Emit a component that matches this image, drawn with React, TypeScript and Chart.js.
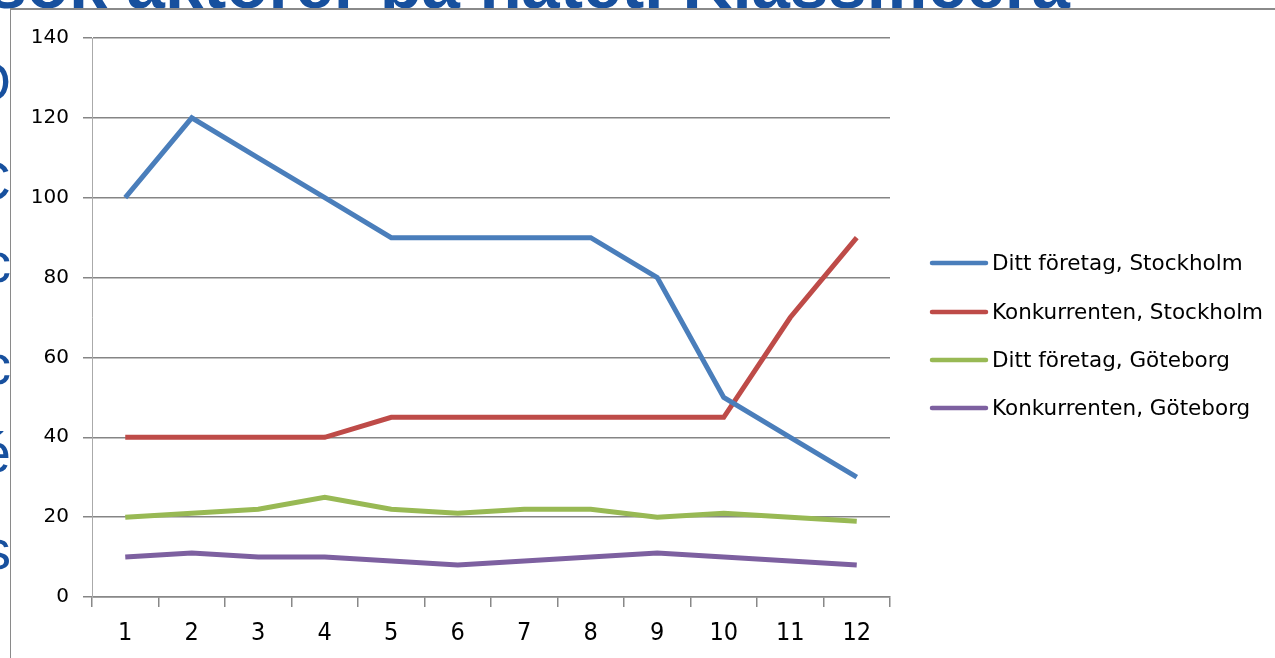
import React, { useEffect, useRef } from "react";
import { Chart, registerables } from "chart.js";

Chart.register(...registerables);

const categories = ["1", "2", "3", "4", "5", "6", "7", "8", "9", "10", "11", "12"];
const dittStockholm = [100, 120, 110, 100, 90, 90, 90, 90, 80, 50, 40, 30];
const konkStockholm = [40, 40, 40, 40, 45, 45, 45, 45, 45, 45, 70, 90];
const dittGoteborg = [20, 21, 22, 25, 22, 21, 22, 22, 20, 21, 20, 19];
const konkGoteborg = [10, 11, 10, 10, 9, 8, 9, 10, 11, 10, 9, 8];
const seriesNames = [
  "Ditt företag, Stockholm",
  "Konkurrenten, Stockholm",
  "Ditt företag, Göteborg",
  "Konkurrenten, Göteborg",
];
const seriesColors = ["#4a7ebb", "#be4b48", "#98b954", "#7d60a0"];
const yMin = 0;
const yMax = 140;
const yStep = 20;

const titleText = "Undersök aktörer på nätet. Klassificera";
const sideLetters = ["O", "C", "c", "c", "é", "s"];

const BLUE = "#17509e";

const legendPlugin = {
  id: "customLegend",
  afterDraw(chart: any) {
    const ctx = chart.ctx;
    const x0 = 921;
    const x1 = 975;
    const tx = 981;
    const ys = [253, 302, 350, 398];
    ctx.save();
    chart.data.datasets.forEach((ds: any, i: number) => {
      ctx.strokeStyle = ds.borderColor;
      ctx.lineWidth = 4.5;
      ctx.lineCap = "round";
      ctx.beginPath();
      ctx.moveTo(x0, ys[i]);
      ctx.lineTo(x1, ys[i]);
      ctx.stroke();
      ctx.fillStyle = "#000";
      ctx.font = "21.5px 'DejaVu Sans'";
      ctx.textBaseline = "middle";
      ctx.textAlign = "left";
      ctx.fillText(ds.label, tx, ys[i] + 1);
    });
    ctx.restore();
  },
};

export default function App() {
  const ref = useRef<HTMLCanvasElement | null>(null);

  useEffect(() => {
    if (!ref.current) return;
    const series = [dittStockholm, konkStockholm, dittGoteborg, konkGoteborg];
    const chart = new Chart(ref.current, {
      type: "line",
      data: {
        labels: categories,
        datasets: series.map((d, i) => ({
          label: seriesNames[i],
          data: d,
          borderColor: seriesColors[i],
          backgroundColor: seriesColors[i],
          borderWidth: 5,
          pointRadius: 0,
          tension: 0,
          fill: false,
        })),
      },
      options: {
        animation: false,
        responsive: false,
        maintainAspectRatio: false,
        layout: { padding: { left: 0, right: 385, top: 28, bottom: 0 } },
        plugins: {
          legend: { display: false },
          tooltip: { enabled: false },
        },
        scales: {
          x: {
            offset: true,
            grid: {
              offset: true,
              drawOnChartArea: false,
              drawTicks: true,
              tickLength: 10,
              color: "#888",
              lineWidth: 1.5,
            },
            border: { color: "#888", width: 1.5 },
            ticks: {
              color: "#000",
              padding: 11,
              maxRotation: 0,
              autoSkip: false,
              font: { family: "'Liberation Sans Narrow', 'DejaVu Sans Condensed', sans-serif", size: 25 },
            },
            afterFit: (s: any) => {
              s.height = 61;
            },
          },
          y: {
            min: yMin,
            max: yMax,
            ticks: {
              stepSize: yStep,
              color: "#000",
              padding: 14,
              font: { family: "'DejaVu Sans'", size: 20 },
            },
            grid: { color: "#858585", lineWidth: 1.5, tickLength: 9 },
            border: { color: "#aaa", width: 1 },
            afterFit: (s: any) => {
              s.width = 81;
            },
          },
        },
      },
      plugins: [legendPlugin],
    });
    return () => chart.destroy();
  }, []);

  return (
    <div
      style={{
        position: "fixed",
        left: 0,
        top: 0,
        width: 1275,
        height: 658,
        overflow: "hidden",
        background: "#fff",
      }}
    >
      <div
        style={{
          position: "absolute",
          right: 205,
          top: -50,
          fontFamily: "'Liberation Sans', 'DejaVu Sans', sans-serif",
          fontWeight: 700,
          fontSize: 69,
          lineHeight: "69px",
          color: BLUE,
          whiteSpace: "nowrap",
        }}
      >
        {titleText}
      </div>
      {sideLetters.map((l, i) => {
        const cy = [87, 186, 268, 370, 458, 555][i];
        return (
          <div
            key={i}
            style={{
              position: "absolute",
              left: -49,
              width: 60,
              top: cy - 33,
              textAlign: "right",
              fontFamily: "'Liberation Sans', 'DejaVu Sans', sans-serif",
              fontSize: 56,
              lineHeight: "56px",
              color: BLUE,
            }}
          >
            {l}
          </div>
        );
      })}
      <div
        style={{
          position: "absolute",
          left: 10,
          top: 8,
          right: 0,
          bottom: 0,
          background: "#fff",
          borderTop: "2px solid #8a8a8a",
          borderLeft: "1px solid #8a8a8a",
        }}
      >
        <canvas ref={ref} width={1264} height={648} style={{ display: "block" }} />
      </div>
    </div>
  );
}
